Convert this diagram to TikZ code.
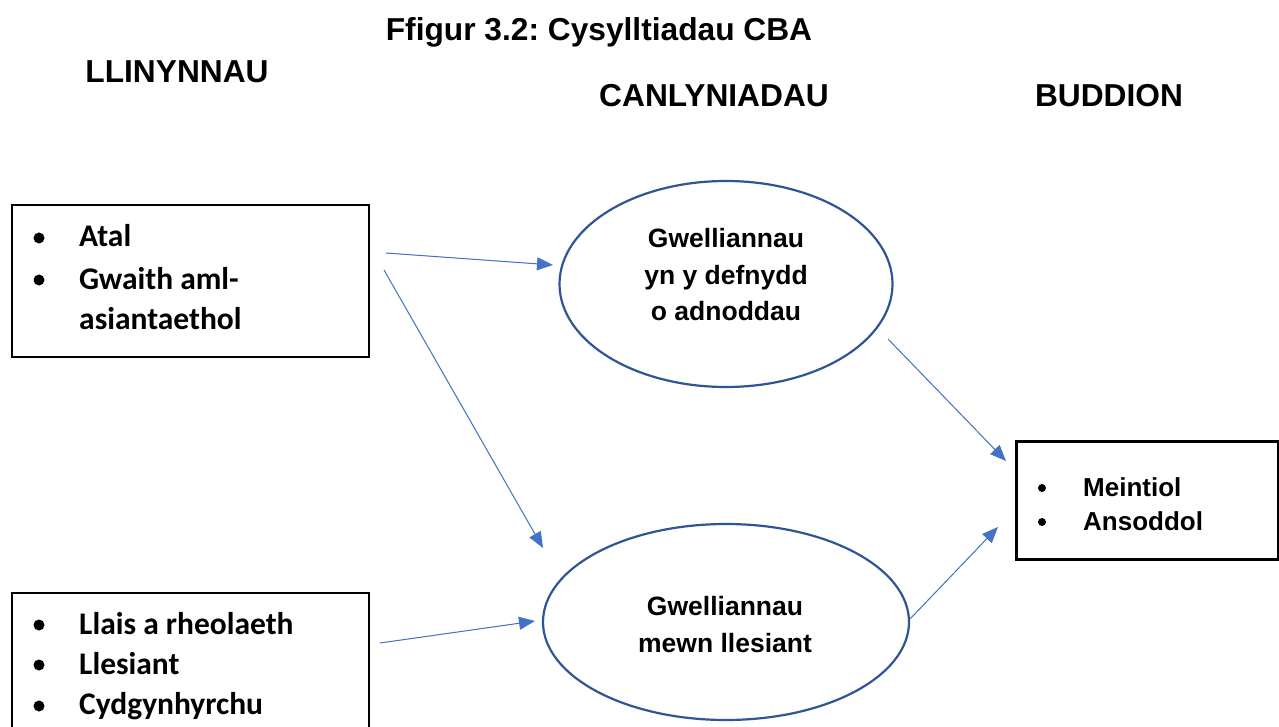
\documentclass[tikz,border=0pt]{standalone}
\usepackage{fontspec}
\setmainfont{Liberation Sans}
\newfontfamily\calfont{Carlito}
\usetikzlibrary{shapes.geometric,arrows.meta}
\definecolor{arrowblue}{RGB}{68,114,196}
\definecolor{ellblue}{RGB}{47,85,151}
\tikzset{
  boxnode/.style={draw=black, line width=2pt, rectangle, inner sep=0pt, anchor=north west},
  ellnode/.style={draw=ellblue, line width=2.2pt, ellipse, inner sep=0pt},
  heading/.style={font=\fontsize{31.7}{38}\selectfont\bfseries, anchor=base, inner sep=0pt},
  elltext/.style={font=\fontsize{26.5}{32}\selectfont\bfseries, anchor=base, inner sep=0pt},
  caltext/.style={font=\calfont\fontsize{31.5}{38}\selectfont\bfseries, anchor=base west, inner sep=0pt},
  buddtext/.style={font=\fontsize{26}{31}\selectfont\bfseries, anchor=base west, inner sep=0pt},
  conn/.style={draw=arrowblue, line width=1pt, -{Triangle[length=16pt,width=13pt]}, fill=arrowblue},
  bullet/.style={fill=black}
}
\frenchspacing
\begin{document}
\begin{tikzpicture}[x=1pt,y=-1pt]
\clip (0,0) rectangle (1279,727);
\fill[white] (0,0) rectangle (1279,727);
% headings
\node[heading] (title) at (599,41) {Ffigur 3.2: Cysylltiadau CBA};
\node[heading] (h1) at (177,83) {LLINYNNAU};
\node[heading] (h2) at (714,107) {CANLYNIADAU};
\node[heading] (h3) at (1109,107) {BUDDION};
% left boxes
\node[boxnode, minimum width=357pt, minimum height=152pt] (b1) at (11,204) {};
\fill[bullet] (39,238) circle (5.5);
\fill[bullet] (39,280) circle (5.5);
\node[caltext] (t11) at (79,247) {Atal};
\node[caltext] (t12) at (79,289) {Gwaith aml-};
\node[caltext] (t13) at (79,329) {asiantaethol};
\node[boxnode, minimum width=357pt, minimum height=155pt] (b2) at (11,592) {};
\fill[bullet] (39,625) circle (5.5);
\fill[bullet] (39,665) circle (5.5);
\fill[bullet] (39,706) circle (5.5);
\node[caltext] (t21) at (79,634) {Llais a rheolaeth};
\node[caltext] (t22) at (79,674) {Llesiant};
\node[caltext] (t23) at (79,714) {Cydgynhyrchu};
% ellipses
\node[ellnode, minimum width=333pt, minimum height=206pt] (e1) at (726,284) {};
\node[elltext] (et11) at (726,248) {Gwelliannau};
\node[elltext] (et12) at (726,284) {yn y defnydd};
\node[elltext] (et13) at (726,320) {o adnoddau};
\node[ellnode, minimum width=366pt, minimum height=196pt] (e2) at (726,622) {};
\node[elltext] (et21) at (725,615) {Gwelliannau};
\node[elltext] (et22) at (725,652) {mewn llesiant};
% right box
\node[boxnode, line width=3pt, minimum width=262pt, minimum height=118pt] (b3) at (1015,440) {};
\fill[bullet] (1042,488) circle (4);
\fill[bullet] (1042,522) circle (4);
\node[buddtext] (t31) at (1083,496) {Meintiol};
\node[buddtext] (t32) at (1083,530) {Ansoddol};
% connector end points
\coordinate (a1s) at (386,253);
\coordinate (a1e) at (553,265);
\coordinate (a2s) at (384,270);
\coordinate (a2e) at (543,548);
\coordinate (a3s) at (888,339);
\coordinate (a3e) at (1006,461);
\coordinate (a4s) at (910,619);
\coordinate (a4e) at (998,527);
\coordinate (a5s) at (380,643);
\coordinate (a5e) at (535,621);
\draw[conn] (a1s) -- (a1e);
\draw[conn] (a2s) -- (a2e);
\draw[conn] (a3s) -- (a3e);
\draw[conn] (a4s) -- (a4e);
\draw[conn] (a5s) -- (a5e);
\end{tikzpicture}
\end{document}
